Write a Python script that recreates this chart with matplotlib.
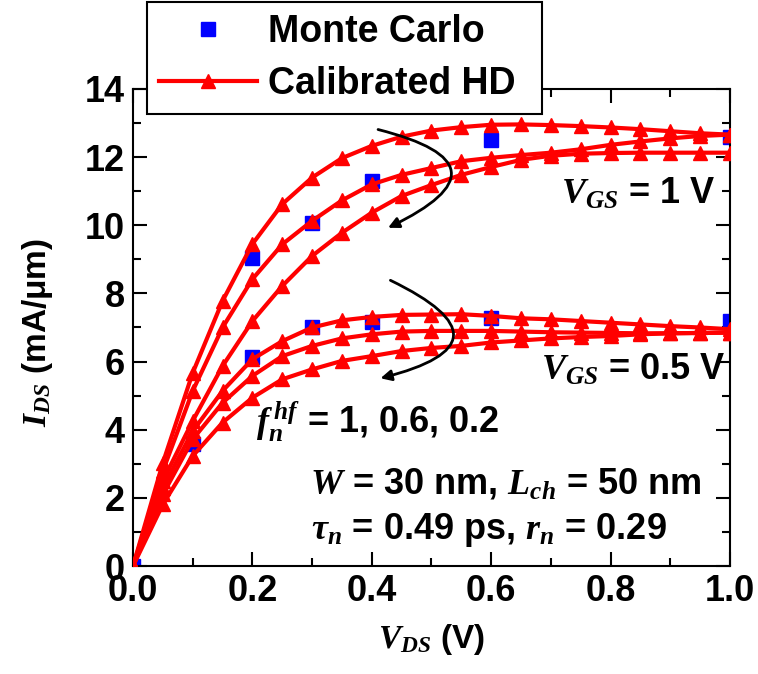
import numpy as np
import matplotlib
matplotlib.use("Agg")
import matplotlib.pyplot as plt
from matplotlib.patches import FancyArrowPatch
from matplotlib.ticker import MultipleLocator

plt.rcParams['font.family'] = ['Liberation Sans', 'DejaVu Sans']
plt.rcParams['font.weight'] = 'bold'
plt.rcParams['mathtext.fontset'] = 'custom'
plt.rcParams['mathtext.it'] = 'Liberation Serif:italic:bold'
plt.rcParams['mathtext.rm'] = 'Liberation Sans:bold'
plt.rcParams['mathtext.bf'] = 'Liberation Sans:bold'

# drain voltage grid of the hydrodynamic curves
vds = [0.0, 0.05, 0.1, 0.15, 0.2, 0.25, 0.3, 0.35, 0.4, 0.45, 0.5,
       0.55, 0.6, 0.65, 0.7, 0.75, 0.8, 0.85, 0.9, 0.95, 1.0]

# calibrated HD, VGS = 1 V, f_n^hf = 1, 0.6, 0.2
hd_vgs1_f10 = [0, 3.03, 5.67, 7.78, 9.45, 10.62, 11.40, 11.97, 12.33, 12.60, 12.78,
               12.88, 12.95, 12.96, 12.94, 12.91, 12.87, 12.82, 12.76, 12.70, 12.66]
hd_vgs1_f06 = [0, 2.79, 5.14, 7.00, 8.42, 9.44, 10.13, 10.73, 11.20, 11.48, 11.68,
               11.88, 11.98, 12.06, 12.13, 12.23, 12.36, 12.46, 12.55, 12.62, 12.66]
hd_vgs1_f02 = [0, 2.50, 4.26, 5.87, 7.19, 8.22, 9.10, 9.78, 10.37, 10.86, 11.18,
               11.48, 11.71, 11.92, 12.04, 12.10, 12.12, 12.13, 12.13, 12.13, 12.13]

# calibrated HD, VGS = 0.5 V
hd_vgs05_f10 = [0, 2.30, 3.96, 5.14, 6.07, 6.60, 7.00, 7.21, 7.31, 7.37, 7.38,
                7.39, 7.34, 7.27, 7.24, 7.19, 7.14, 7.09, 7.04, 7.00, 6.95]
hd_vgs05_f06 = [0, 2.10, 3.72, 4.79, 5.58, 6.16, 6.46, 6.68, 6.80, 6.88, 6.90,
                6.90, 6.90, 6.88, 6.86, 6.85, 6.84, 6.83, 6.83, 6.84, 6.85]
hd_vgs05_f02 = [0, 1.81, 3.23, 4.21, 4.94, 5.48, 5.77, 6.02, 6.16, 6.31, 6.40,
                6.46, 6.56, 6.62, 6.68, 6.72, 6.75, 6.80, 6.83, 6.84, 6.85]

# Monte Carlo points
mc_vgs1_x = [0.2, 0.3, 0.4, 0.6, 1.0]
mc_vgs1_y = [9.03, 10.08, 11.30, 12.50, 12.60]
mc_vgs05_x = [0.0, 0.1, 0.2, 0.3, 0.4, 0.6, 1.0]
mc_vgs05_y = [0.0, 3.59, 6.13, 7.00, 7.17, 7.29, 7.19]


def main():
    fig = plt.figure(figsize=(7.58, 6.74), dpi=100)
    ax = fig.add_axes([0.1755, 0.1602, 0.963 - 0.1755, 0.868 - 0.1602])

    # Monte Carlo squares sit under the HD curves
    mc, = ax.plot(mc_vgs05_x, mc_vgs05_y, 's', color='#0000ff', ms=10.5, zorder=2,
                  label='Monte Carlo')
    ax.plot(mc_vgs1_x, mc_vgs1_y, 's', color='#0000ff', ms=10.5, zorder=2)

    curves = [hd_vgs1_f10, hd_vgs1_f06, hd_vgs1_f02,
              hd_vgs05_f10, hd_vgs05_f06, hd_vgs05_f02]
    hd = None
    for c in curves:
        line, = ax.plot(vds, c, '-^', color='#ff0000', lw=3, ms=10, zorder=3,
                        label='Calibrated HD')
        if hd is None:
            hd = line

    ax.set_xlim(0, 1.0)
    ax.set_ylim(0, 14)
    ax.xaxis.set_major_locator(MultipleLocator(0.2))
    ax.xaxis.set_minor_locator(MultipleLocator(0.1))
    ax.yaxis.set_major_locator(MultipleLocator(2))
    ax.yaxis.set_minor_locator(MultipleLocator(1))
    ax.set_xticks([0, 0.2, 0.4, 0.6, 0.8, 1.0])
    ax.set_xticklabels(['0.0', '0.2', '0.4', '0.6', '0.8', '1.0'])
    ax.tick_params(which='both', direction='in', top=True, right=True,
                   width=1.5, labelsize=26, pad=6)
    ax.tick_params(which='major', length=10)
    ax.tick_params(which='minor', length=6)
    for s in ax.spines.values():
        s.set_linewidth(1.5)

    ax.set_xlabel('$V_{DS}$ (V)', fontsize=24, fontweight='bold', labelpad=9)
    ax.set_ylabel('$I_{DS}$ (mA/μm)', fontsize=24, fontweight='bold')
    ax.yaxis.set_label_coords(-0.131, 0.49)

    # annotations
    ax.text(0.717, 10.63, '$V_{GS}$ = 1 V', fontsize=26, fontweight='bold',
            ha='left', va='baseline')
    ax.text(0.683, 5.46, '$V_{GS}$ = 0.5 V', fontsize=26, fontweight='bold',
            ha='left', va='baseline')
    ax.text(0.206, 3.90, '$f_n^{\\,hf}$ = 1, 0.6, 0.2', fontsize=26,
            fontweight='bold', ha='left', va='baseline')
    ax.text(0.296, 2.14, '$W$ = 30 nm, $L_{ch}$ = 50 nm', fontsize=26,
            fontweight='bold', ha='left', va='baseline')
    ax.text(0.298, 0.79, '$\\tau_n$ = 0.49 ps, $r_n$ = 0.29', fontsize=26,
            fontweight='bold', ha='left', va='baseline')

    # curved arrows showing decreasing f_n^hf
    a1 = FancyArrowPatch((0.406, 12.83), (0.423, 9.89),
                         connectionstyle='arc3,rad=-1.4', arrowstyle='-|>',
                         mutation_scale=16, lw=2, color='black', zorder=4)
    a2 = FancyArrowPatch((0.427, 8.42), (0.41, 5.49),
                         connectionstyle='arc3,rad=-1.4', arrowstyle='-|>',
                         mutation_scale=16, lw=2, color='black', zorder=4)
    ax.add_patch(a1)
    ax.add_patch(a2)

    leg = fig.legend([mc, hd], ['Monte Carlo', 'Calibrated HD'],
                     loc='upper left',
                     bbox_to_anchor=(147 / 758, 1 - 112 / 674, 395 / 758, 110 / 674),
                     mode='expand',
                     prop={'family': 'Liberation Sans', 'weight': 'bold', 'size': 27},
                     frameon=True, fancybox=False, edgecolor='black', framealpha=1,
                     handlelength=2.6, handletextpad=0.3, borderpad=0.32,
                     labelspacing=0.42, borderaxespad=0)
    leg.get_frame().set_linewidth(1.5)
    leg.set_zorder(10)

    fig.savefig('out.png', dpi=100)


if __name__ == "__main__":
    main()
